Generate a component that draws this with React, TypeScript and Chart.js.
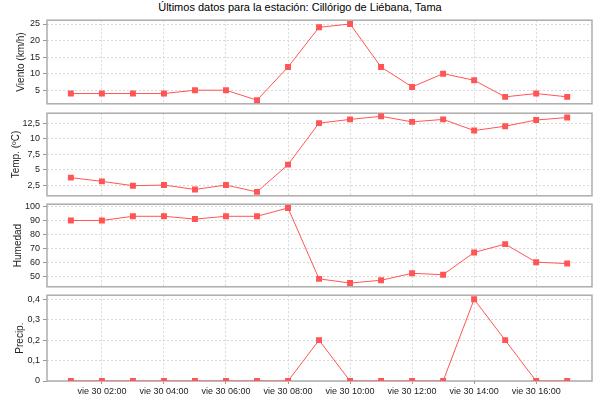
import { useEffect, useRef } from 'react';
import { Chart, registerables } from 'chart.js';

Chart.register(...registerables);

// horas del viernes 30 (01:00 .. 17:00)
const HOURS = [1, 2, 3, 4, 5, 6, 7, 8, 9, 10, 11, 12, 13, 14, 15, 16, 17];
const VIENTO = [4, 4, 4, 4, 5, 5, 2, 12, 24, 25, 12, 6, 10, 8, 3, 4, 3];
const TEMP = [3.7, 3.1, 2.4, 2.5, 1.8, 2.5, 1.4, 5.8, 12.5, 13.1, 13.6, 12.7, 13.1, 11.3, 12.0, 13.0, 13.4];
const HUMEDAD = [90, 90, 93, 93, 91, 93, 93, 99, 48, 45, 47, 52, 51, 67, 73, 60, 59];
const PRECIP = [0, 0, 0, 0, 0, 0, 0, 0, 0.2, 0, 0, 0, 0, 0.4, 0.2, 0, 0];

const TITLE = 'Últimos datos para la estación: Cillórigo de Liébana, Tama';
const FONT = '"Liberation Sans", Arial, sans-serif';
const RED = '#ff5555';

const plotBorder = {
    id: 'plotBorder',
    beforeDatasetsDraw(chart: Chart) {
        const { ctx, chartArea } = chart;
        ctx.save();
        ctx.strokeStyle = '#adadad';
        ctx.lineWidth = 1.5;
        ctx.strokeRect(chartArea.left, chartArea.top, chartArea.right - chartArea.left, chartArea.bottom - chartArea.top);
        ctx.restore();
    },
};

interface PanelProps {
    label: string;
    values: number[];
    min: number;
    max: number;
    step: number;
    top: number;
    height: number;
    titleX: number;
    showX?: boolean;
}

function Panel({ label, values, min, max, step, top, height, titleX, showX }: PanelProps) {
    const chartRef = useRef<HTMLCanvasElement>(null);
    const chartInstance = useRef<Chart | null>(null);

    useEffect(() => {
        if (!chartRef.current) return;
        if (chartInstance.current) chartInstance.current.destroy();

        chartInstance.current = new Chart(chartRef.current, {
            type: 'line',
            data: {
                datasets: [{
                    data: HOURS.map((h, i) => ({ x: h, y: values[i] })),
                    borderColor: RED,
                    backgroundColor: RED,
                    borderWidth: 1,
                    pointStyle: 'rect',
                    pointRadius: 4.2,
                    pointBorderWidth: 0,
                    tension: 0,
                    clip: 0,
                }],
            },
            options: {
                animation: false,
                responsive: true,
                maintainAspectRatio: false,
                layout: { padding: { left: 0, right: 8, top: 2, bottom: showX ? 0 : 2 } },
                plugins: {
                    legend: { display: false },
                    tooltip: { enabled: false },
                },
                scales: {
                    x: {
                        type: 'linear',
                        min: 0.23,
                        max: 17.8,
                        afterFit: (axis: any) => {
                            axis.height = showX ? 19 : 0;
                            axis.paddingLeft = 0;
                            axis.paddingRight = 0;
                        },
                        grid: {
                            color: '#d9d9d9',
                            drawTicks: !!showX,
                            tickLength: 3,
                            tickColor: '#999',
                            tickBorderDash: [],
                        },
                        border: { display: false, dash: [2, 2] },
                        ticks: {
                            display: !!showX,
                            stepSize: 2,
                            includeBounds: false,
                            autoSkip: false,
                            maxRotation: 0,
                            padding: 2,
                            color: '#222',
                            font: { family: FONT, size: 9 },
                            callback: (v: any) => `vie 30 ${String(v).padStart(2, '0')}:00`,
                        },
                    },
                    y: {
                        type: 'linear',
                        min,
                        max,
                        afterFit: (axis: any) => {
                            axis.width = 47;
                            axis.paddingTop = 0;
                            axis.paddingBottom = 0;
                        },
                        grid: {
                            color: '#d9d9d9',
                            tickLength: 4,
                            tickColor: '#999',
                            tickBorderDash: [],
                        },
                        border: { display: false, dash: [2, 2] },
                        ticks: {
                            stepSize: step,
                            includeBounds: false,
                            padding: 3,
                            color: '#222',
                            font: { family: FONT, size: 9 },
                            callback: (v: any) => String(v).replace('.', ','),
                        },
                        title: {
                            display: true,
                            text: label,
                            color: '#222',
                            font: { family: FONT, size: 10 },
                            padding: { top: titleX - 6, bottom: 0 },
                        },
                    },
                },
            },
            plugins: [plotBorder],
        });

        return () => {
            if (chartInstance.current) {
                chartInstance.current.destroy();
                chartInstance.current = null;
            }
        };
    }, [values]);

    return (
        <div style={{ position: 'absolute', left: 0, top: top - 2, width: 600, height: height + (showX ? 21 : 4) }}>
            <canvas ref={chartRef}></canvas>
        </div>
    );
}

export default function App() {
    return (
        <div style={{ position: 'absolute', left: 0, top: 0, width: 600, height: 400, background: '#fff' }}>
            <div style={{ position: 'absolute', left: 0, top: 0, width: 600, textAlign: 'center', fontFamily: FONT, fontSize: 11, lineHeight: '15px', color: '#000' }}>
                {TITLE}
            </div>
            <Panel label="Viento (km/h)" values={VIENTO} min={0.9} max={26.15} step={5} top={18} height={88} titleX={21.5} />
            <Panel label="Temp. (ºC)" values={TEMP} min={0.77} max={14.1} step={2.5} top={111} height={87} titleX={16} />
            <Panel label="Humedad" values={HUMEDAD} min={42.3} max={101.7} step={10} top={202} height={87} titleX={18} />
            <Panel label="Precip." values={PRECIP} min={0} max={0.42} step={0.1} top={293} height={88} titleX={20} showX />
        </div>
    );
}
